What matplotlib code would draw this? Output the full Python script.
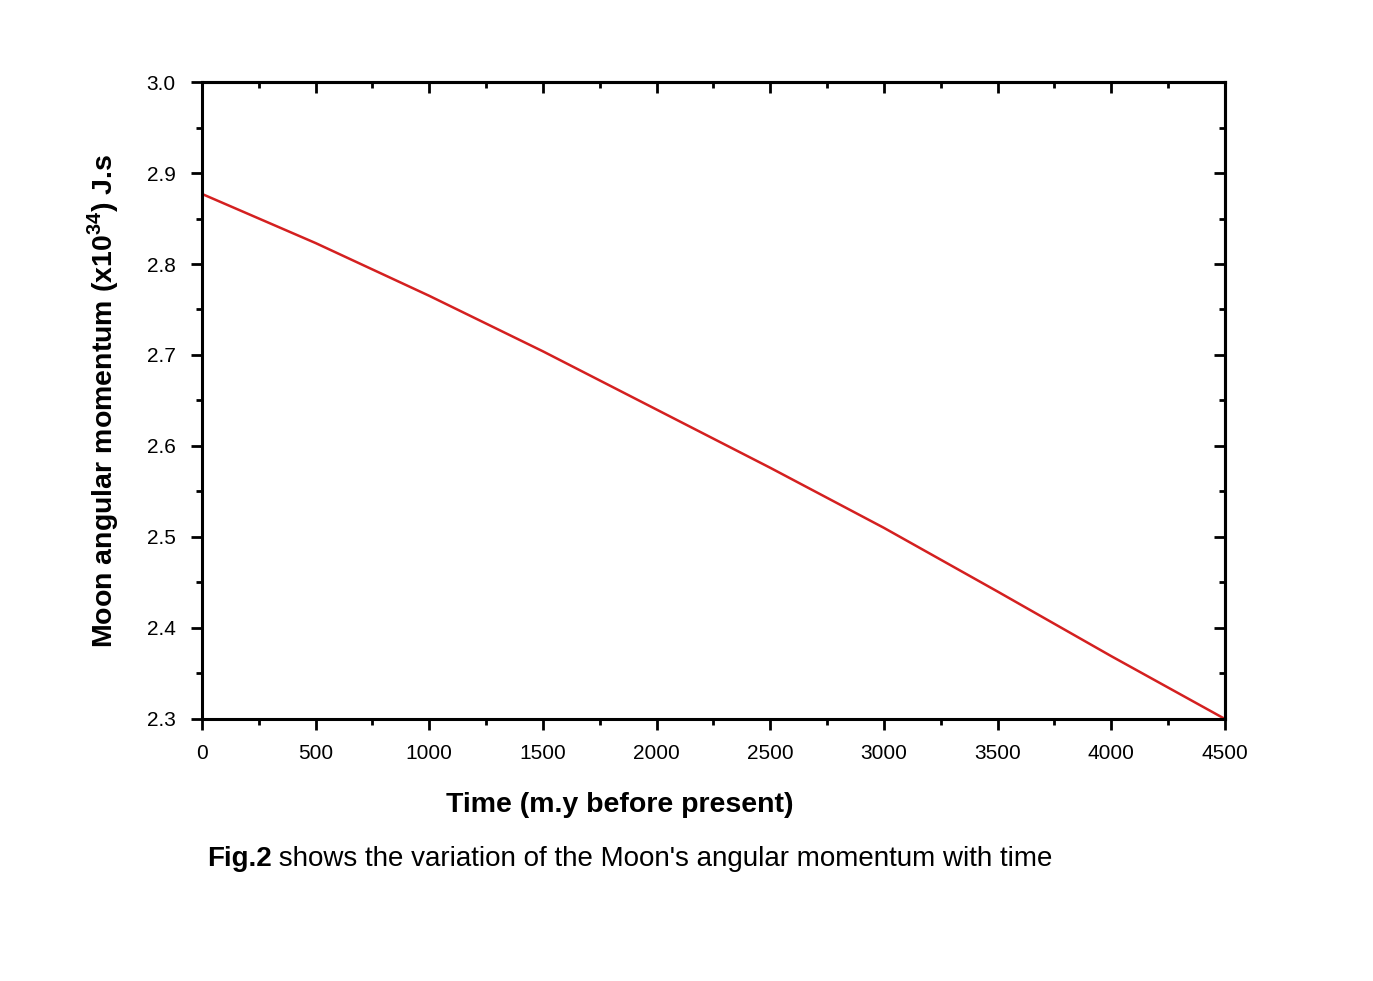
import matplotlib
matplotlib.use("Agg")
import matplotlib.pyplot as plt
from matplotlib.ticker import MultipleLocator

# Moon angular momentum vs time
time_my = [0, 500, 1000, 1500, 2000, 2500, 3000, 3500, 4000, 4500]
momentum = [2.877, 2.823, 2.765, 2.704, 2.640, 2.576, 2.510, 2.440, 2.369, 2.300]

plt.rcParams['font.family'] = ['Liberation Sans', 'DejaVu Sans']
plt.rcParams['mathtext.fontset'] = 'custom'
plt.rcParams['mathtext.bf'] = 'Liberation Sans:bold'
plt.rcParams['mathtext.rm'] = 'Liberation Sans:bold'

fig = plt.figure(figsize=(13.73, 9.81), dpi=100)
ax = fig.add_axes([0.1471, 0.2671, 0.7451, 0.6493])

ax.plot(time_my, momentum, color='#d42020', linewidth=1.8)

ax.set_xlim(0, 4500)
ax.set_ylim(2.3, 3.0)
ax.xaxis.set_major_locator(MultipleLocator(500))
ax.xaxis.set_minor_locator(MultipleLocator(250))
ax.yaxis.set_major_locator(MultipleLocator(0.1))
ax.yaxis.set_minor_locator(MultipleLocator(0.05))
ax.yaxis.set_major_formatter(plt.FormatStrFormatter('%.1f'))

for s in ax.spines.values():
    s.set_linewidth(2.2)

# bottom/left ticks point out, top/right ticks point in
ax.tick_params(which='both', bottom=True, left=True, top=False, right=False,
               direction='out', width=2, labelsize=15, color='black')
ax.tick_params(which='major', length=8)
ax.tick_params(which='minor', length=4.5)
ax.tick_params(axis='x', which='major', pad=10)
ax.tick_params(axis='y', which='major', pad=11)

ax_top = ax.secondary_xaxis('top')
ax_top.xaxis.set_major_locator(MultipleLocator(500))
ax_top.xaxis.set_minor_locator(MultipleLocator(250))
ax_top.tick_params(which='both', direction='in', width=2, labeltop=False)
ax_top.tick_params(which='major', length=8)
ax_top.tick_params(which='minor', length=4.5)
ax_top.spines['top'].set_linewidth(2.2)

ax_right = ax.secondary_yaxis('right')
ax_right.yaxis.set_major_locator(MultipleLocator(0.1))
ax_right.yaxis.set_minor_locator(MultipleLocator(0.05))
ax_right.tick_params(which='both', direction='in', width=2, labelright=False)
ax_right.tick_params(which='major', length=8)
ax_right.tick_params(which='minor', length=4.5)
ax_right.spines['right'].set_linewidth(2.2)

ax.set_ylabel(r"Moon angular momentum (x10$^{\mathbf{34}}$) J.s",
              fontsize=20.5, fontweight='bold', labelpad=18)

fig.text(0.4516, 0.179, "Time (m.y before present)", fontsize=20.5,
         fontweight='bold', ha='center', va='center')

# caption with bold "Fig.2"
t = fig.text(0.1505, 0.117, "Fig.2", fontsize=20, fontweight='bold',
             ha='left', va='baseline')
fig.canvas.draw()
ax.annotate(" shows the variation of the Moon's angular momentum with time",
            xy=(1, 0), xycoords=t, fontsize=20, ha='left', va='bottom',
            annotation_clip=False)

fig.savefig("out.png", dpi=100)
